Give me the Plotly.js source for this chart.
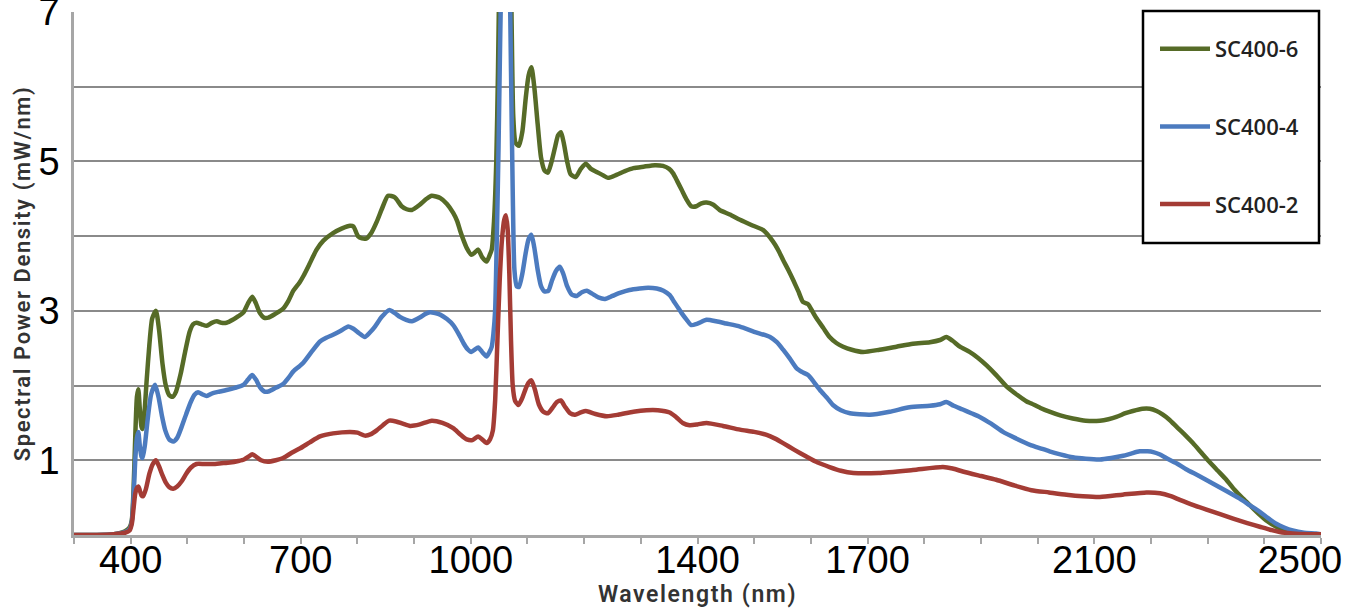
<!DOCTYPE html>
<html>
<head>
<meta charset="utf-8">
<script src="https://cdn.plot.ly/plotly-3.0.1.min.js"></script>
<style>
  html, body { margin: 0; padding: 0; background: #fff; }
  #chart { width: 1359px; height: 610px; }
  .xtitle, .ytitle { letter-spacing: 1.6px; }
</style>
</head>
<body>
<div id="chart"></div>
<script>
// ---- data ----
const seriesNames = ["SC400-6", "SC400-4", "SC400-2"];

const wl6 = [300,340,370,390,398,402,405,408,411,413.5,416,419,421,424,428,433,438,444.6,450,456,462,468,474,480,488,496,504,510,516,525,534,543,552,560,569,580,590,599,607,614.5,621,628,635,643,655,669,678,687,698,705,715,728,740,757,772,787,793,801,808,816,825,834,844,854,866,878,887,896,910,922,931,946,958,969,976,981,987,993,1001,1007,1013,1020,1028,1033,1037,1041,1045,1048,1051,1055,1060,1065,1069,1072,1075,1079,1085,1091,1097,1102,1107,1112,1118,1124,1130,1136,1142,1149,1154,1159,1164,1170,1176,1185,1194,1203,1212,1222,1232,1242,1257,1272,1287,1305,1325,1339,1350,1357,1364,1372,1380,1389,1398,1407,1416,1428,1439,1457,1475,1495,1516,1533,1542,1551,1560,1569,1578,1586,1595,1603,1610,1622,1633,1645,1657,1672,1692,1721,1751,1780,1810,1828,1839,1850,1863,1880,1895,1910,1927,1945,1965,1980,1989,2005,2021,2040,2062,2085,2110,2125,2139,2155,2168,2185,2198,2210,2221,2233,2245,2260,2274,2289,2303,2318,2333,2347,2362,2377,2392,2406,2421,2435,2450,2470,2491,2500];
const sc6 = [0,0,0.01,0.05,0.1,0.2,0.6,1.3,1.85,1.95,1.7,1.45,1.42,1.6,2.05,2.55,2.9,3.0,2.75,2.3,2.0,1.87,1.85,1.92,2.15,2.45,2.72,2.82,2.84,2.82,2.80,2.84,2.86,2.84,2.84,2.88,2.93,2.98,3.1,3.19,3.1,2.97,2.91,2.91,2.96,3.03,3.13,3.27,3.38,3.47,3.62,3.82,3.94,4.04,4.1,4.14,4.13,4.0,3.97,3.97,4.05,4.19,4.38,4.54,4.52,4.40,4.36,4.35,4.42,4.5,4.54,4.51,4.43,4.31,4.2,4.08,3.95,3.84,3.75,3.78,3.82,3.72,3.66,3.74,3.82,4.2,5.0,6.2,7.8,9.2,9.8,9.6,8.5,6.9,5.6,5.25,5.21,5.4,5.85,6.15,6.26,6.0,5.5,5.05,4.88,4.85,4.98,5.2,5.35,5.39,5.25,5.0,4.83,4.79,4.9,4.97,4.9,4.86,4.82,4.78,4.82,4.87,4.91,4.93,4.95,4.94,4.9,4.84,4.74,4.62,4.5,4.40,4.40,4.44,4.45,4.42,4.35,4.29,4.22,4.15,4.08,3.93,3.82,3.68,3.55,3.41,3.26,3.12,3.09,2.99,2.90,2.77,2.65,2.57,2.52,2.48,2.45,2.48,2.52,2.56,2.58,2.61,2.65,2.6,2.52,2.45,2.37,2.27,2.14,1.99,1.87,1.79,1.76,1.70,1.65,1.60,1.56,1.53,1.53,1.55,1.58,1.63,1.66,1.69,1.69,1.66,1.61,1.54,1.45,1.34,1.23,1.10,0.98,0.86,0.74,0.61,0.49,0.38,0.27,0.18,0.11,0.07,0.04,0.02,0.01,0.01];

const wl4 = [300,340,370,390,398,402,405,408,411,413.5,416,419,421,425,430,436,443,449,455,461,468,475,482,490,498,506,513,519,527,534,545,557,569,584,599,607,614.5,621,628,636,643,656,669,678,687,698,705,720,734,745,757,770,784,793,803,813,822,831,843,856,866,875,886,896,910,920,928,937,946,958,969,978,987,994,1001,1007,1013,1020,1028,1033,1037,1040,1043,1046,1049,1052,1056,1060,1064,1068,1071,1074,1077,1081,1085,1091,1097,1102,1107,1112,1118,1124,1130,1137,1143,1150,1157,1163,1170,1178,1187,1196,1205,1214,1225,1237,1250,1263,1280,1298,1313,1328,1340,1351,1358,1365,1372,1381,1389,1400,1416,1433,1451,1475,1500,1528,1540,1551,1563,1575,1585,1595,1605,1616,1628,1639,1653,1669,1704,1739,1774,1810,1828,1839,1852,1868,1883,1898,1918,1939,1960,1989,2005,2021,2040,2062,2085,2110,2130,2151,2165,2180,2194,2204,2215,2227,2245,2262,2285,2309,2333,2356,2374,2392,2406,2421,2435,2450,2470,2491,2500];
const sc4 = [0,0,0.01,0.04,0.08,0.18,0.5,1.0,1.3,1.38,1.2,1.05,1.03,1.2,1.55,1.88,2.01,1.85,1.6,1.4,1.28,1.25,1.3,1.45,1.62,1.78,1.88,1.91,1.88,1.86,1.9,1.92,1.94,1.97,2.01,2.08,2.14,2.08,1.98,1.92,1.92,1.97,2.02,2.1,2.19,2.26,2.31,2.46,2.59,2.64,2.68,2.73,2.79,2.76,2.7,2.65,2.71,2.79,2.92,3.01,2.97,2.92,2.88,2.86,2.91,2.96,2.98,2.97,2.95,2.89,2.81,2.7,2.57,2.49,2.45,2.48,2.51,2.45,2.39,2.45,2.52,2.7,3.01,4.0,5.2,6.7,8.2,8.8,8.8,7.8,6.2,4.6,3.55,3.33,3.32,3.5,3.78,3.96,4.02,3.85,3.55,3.33,3.26,3.27,3.4,3.53,3.59,3.5,3.33,3.22,3.2,3.25,3.27,3.23,3.18,3.16,3.2,3.24,3.28,3.30,3.31,3.30,3.27,3.21,3.13,3.05,2.97,2.88,2.81,2.83,2.88,2.86,2.83,2.79,2.72,2.65,2.58,2.48,2.36,2.23,2.18,2.14,2.05,1.94,1.84,1.74,1.67,1.63,1.61,1.65,1.71,1.73,1.75,1.78,1.73,1.68,1.63,1.58,1.49,1.38,1.3,1.20,1.16,1.12,1.08,1.04,1.02,1.01,1.03,1.06,1.09,1.12,1.12,1.11,1.08,1.03,0.96,0.88,0.79,0.69,0.59,0.49,0.40,0.31,0.23,0.15,0.1,0.06,0.03,0.02,0.01];

const wl2 = [300,340,370,390,398,402,405,408,411,413.5,416,419,422,427,433,439,444.6,450,456,462,468,475,482,490,498,506,516,530,545,560,575,590,600,608,614.5,621,630,642,656,669,684,699,716,734,757,787,800,813,824,834,845,856,868,880,893,910,931,950,969,981,993,1003,1013,1020,1028,1034,1039,1043,1047,1051,1055,1059,1062,1065,1068,1071,1074,1078,1084,1090,1097,1102,1107,1113,1120,1128,1136,1144,1152,1159,1166,1175,1184,1194,1203,1220,1240,1260,1287,1310,1330,1351,1362,1374,1386,1400,1416,1445,1475,1500,1522,1537,1551,1571,1592,1612,1633,1653,1675,1720,1780,1833,1850,1868,1900,1927,1960,1989,2020,2051,2080,2110,2150,2192,2216,2235,2251,2275,2298,2322,2345,2370,2392,2410,2427,2450,2480,2500];
const sc2 = [0,0,0.01,0.03,0.06,0.15,0.35,0.55,0.63,0.65,0.6,0.53,0.52,0.62,0.82,0.95,1.0,0.92,0.8,0.7,0.64,0.62,0.65,0.72,0.82,0.9,0.95,0.95,0.95,0.96,0.97,0.99,1.01,1.05,1.08,1.05,1.0,0.98,1.0,1.03,1.1,1.16,1.24,1.32,1.36,1.38,1.37,1.33,1.35,1.40,1.47,1.53,1.52,1.49,1.46,1.48,1.53,1.5,1.43,1.35,1.28,1.27,1.32,1.28,1.23,1.28,1.4,1.8,2.6,3.4,3.95,4.22,4.28,4.1,3.5,2.6,2.0,1.8,1.74,1.82,1.96,2.04,2.07,1.95,1.75,1.65,1.63,1.7,1.78,1.80,1.72,1.63,1.61,1.64,1.66,1.62,1.59,1.61,1.65,1.67,1.67,1.64,1.58,1.5,1.47,1.48,1.50,1.46,1.41,1.38,1.34,1.29,1.23,1.14,1.05,0.97,0.91,0.86,0.83,0.83,0.87,0.91,0.89,0.85,0.79,0.74,0.66,0.60,0.57,0.54,0.52,0.51,0.54,0.57,0.56,0.52,0.47,0.40,0.34,0.28,0.22,0.16,0.11,0.07,0.04,0.02,0.01,0.01];

const xTickVals = [400, 700, 1000, 1400, 1700, 2100, 2500];
const xTickText = ["400", "700", "1000", "1400", "1700", "2100", "2500\u00a0\u00a0\u00a0\u00a0"];
const yTickVals = [0, 1, 2, 3, 4, 5, 6, 7];
const yTickText = ["", "1", "", "3", "", "5", "", "7"];

const colors = ["#566b27", "#4c7bbf", "#a43c35"];

// ---- traces ----
const xs = [wl6, wl4, wl2];
const ys = [sc6, sc4, sc2];
const traces = seriesNames.map((n, i) => ({
  type: "scatter",
  mode: "lines",
  name: n,
  legendgroup: n,
  x: xs[i],
  y: ys[i],
  line: { color: colors[i], width: 4.5, shape: "spline", smoothing: 0.6 },
  hoverinfo: "x+y+name"
}));

const L = 74, R = 38, T = 12, B = 75;
const W = 1359, H = 610;
const pw = W - L - R, ph = H - T - B;
const px = v => (v - L) / pw;
const py = v => (H - B - v) / ph;

const layout = {
  width: W, height: H,
  margin: { l: L, r: R, t: T, b: B, pad: 0 },
  paper_bgcolor: "#ffffff",
  plot_bgcolor: "#ffffff",
  showlegend: true,
  xaxis: {
    range: [300, 2500],
    tickvals: xTickVals,
    ticktext: xTickText,
    ticks: "outside",
    ticklen: 6,
    tickwidth: 2,
    tickcolor: "#a6a6a6",
    ticklabeloverflow: "allow",
    ticklabelstandoff: -16,
    minor: { dtick: 100, tick0: 300, ticks: "outside", ticklen: 6, tickwidth: 2, tickcolor: "#a6a6a6", showgrid: false },
    showgrid: false,
    zeroline: false,
    showline: true,
    linecolor: "#a6a6a6",
    linewidth: 2.5,
    tickfont: { family: "Liberation Sans, Arial, sans-serif", size: 38, color: "#000" },
    title: { text: "Wavelength (nm)", standoff: 4,
      font: { family: "Roboto, sans-serif", size: 23, color: "#333", weight: 600 } },
    fixedrange: true
  },
  yaxis: {
    range: [0, 7],
    tickvals: yTickVals,
    ticktext: yTickText,
    ticks: "",
    showgrid: true,
    gridcolor: "#8a8a8a",
    gridwidth: 1.5,
    zeroline: false,
    showline: true,
    linecolor: "#a6a6a6",
    linewidth: 2.5,
    ticklabeloverflow: "allow",
    ticklabelstandoff: 4,
    tickfont: { family: "Liberation Sans, Arial, sans-serif", size: 38, color: "#000" },
    title: { text: "Spectral Power Density (mW/nm)", standoff: 2,
      font: { family: "Roboto, sans-serif", size: 22, color: "#333", weight: 600 } },
    fixedrange: true
  },
  legend: {
    x: px(1155), y: py(28), xanchor: "left", yanchor: "top",
    bgcolor: "rgba(0,0,0,0)",
    borderwidth: 0,
    tracegroupgap: 46,
    itemwidth: 50,
    font: { family: "Open Sans, sans-serif", size: 22, color: "#222", weight: 600 }
  },
  shapes: [{
    type: "rect", xref: "paper", yref: "paper", layer: "above",
    x0: px(1143), x1: px(1319), y0: py(243), y1: py(11),
    line: { color: "#000", width: 2.5 },
    fillcolor: "#ffffff"
  }]
};

Plotly.newPlot("chart", traces, layout, { displayModeBar: false, staticPlot: false });
</script>
</body>
</html>
